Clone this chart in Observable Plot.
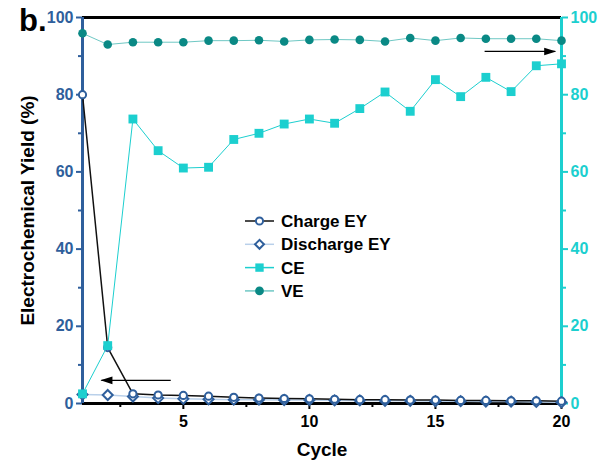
<!DOCTYPE html>
<html><head><meta charset="utf-8">
<script src="https://cdn.jsdelivr.net/npm/d3@7"></script>
<script src="https://cdn.jsdelivr.net/npm/@observablehq/plot@0.6"></script>
<style>
body{margin:0;background:#fff;font-family:"Liberation Sans",Arial,sans-serif;}
#wrap{position:relative;width:600px;height:467px;overflow:hidden;background:#fff;}
#panel{position:absolute;left:19px;top:3px;font-size:31px;font-weight:bold;color:#000;}
#legend{position:absolute;left:0;top:0;pointer-events:none;}
</style></head><body><div id="wrap"><div id="panel">b.</div></div>
<script>
// ---- data ----
const cycles = [1,2,3,4,5,6,7,8,9,10,11,12,13,14,15,16,17,18,19,20];
const chargeEY = [80,14.5,2.5,2.2,2.1,1.9,1.6,1.4,1.3,1.2,1.1,1.0,1.0,0.9,0.9,0.8,0.8,0.7,0.7,0.6];
const dischargeEY = [2.3,2.2,1.8,1.4,1.2,1.1,1.0,1.0,0.9,0.9,0.8,0.8,0.7,0.7,0.6,0.6,0.5,0.5,0.4,0.3];
const ce = [2.5,15.0,73.7,65.5,61.0,61.2,68.4,70.0,72.4,73.7,72.6,76.4,80.7,75.7,83.9,79.5,84.5,80.8,87.5,88.0];
const ve = [95.9,93.0,93.6,93.6,93.6,94.0,94.0,94.1,93.8,94.2,94.3,94.2,93.8,94.7,94.0,94.7,94.5,94.5,94.5,94.0];
const yMajorTicks = [0,20,40,60,80,100];
const yMinorTicks = [10,30,50,70,90];
const xMajorTicks = [5,10,15,20];
const xMinorTicks = [2.5,7.5,12.5,17.5];
const arrowX1 = [4.5,16.95];
const arrowX2 = [1.75,19.75];
const arrowY = [6,91.2];
const arrowDir = [180,0];
const legendLabels = ["Charge EY","Discharge EY","CE","VE"];
const xTitle = "Cycle";
const yTitle = "Electrochemical Yield (%)";

// ---- styles ----
const BLUE = "#2f5f9c";
const CYAN = "#1ccfcf";
const TEAL = "#0a8985";
const TEAL_LINE = "#6fc8c4";
const DIS_LINE = "#b9d0ea";
const FONT = "'Liberation Sans', Arial, sans-serif";

const rows = cycles.map((c, i) => ({cycle: c, charge: chargeEY[i], discharge: dischargeEY[i], ce: ce[i], ve: ve[i]}));
const arrows = arrowX1.map((x1, i) => ({x1, x2: arrowX2[i], y: arrowY[i], dir: arrowDir[i]}));
const headSymbol = {draw(ctx) { ctx.moveTo(1, 0); ctx.lineTo(-11, -3.8); ctx.lineTo(-11, 3.8); ctx.closePath(); }};

const chart = Plot.plot({
  width: 600, height: 467,
  marginLeft: 82, marginRight: 39, marginTop: 17, marginBottom: 64,
  x: {domain: [1, 20]},
  y: {domain: [0, 100]},
  style: {fontFamily: FONT, background: "transparent", overflow: "visible"},
  marks: [
    // frame lines
    Plot.ruleY([100], {stroke: "#000", strokeWidth: 3}),
    Plot.ruleY([0], {stroke: "#000", strokeWidth: 3}),
    // x axis
    Plot.axisX(xMajorTicks, {tickSize: 6, strokeWidth: 2, stroke: "#000", fill: "#000", fontSize: 16, fontWeight: "bold", tickPadding: 6, label: null}),
    Plot.axisX(xMinorTicks, {tickSize: 4, strokeWidth: 2, stroke: "#000", tickFormat: () => "", label: null}),
    // left axis
    Plot.axisY(yMajorTicks, {anchor: "left", tickSize: 6, strokeWidth: 2, stroke: BLUE, fill: BLUE, fontSize: 16, fontWeight: "bold", tickPadding: 3, label: null}),
    Plot.axisY(yMinorTicks, {anchor: "left", tickSize: 4, strokeWidth: 2, stroke: BLUE, tickFormat: () => "", label: null}),
    Plot.ruleX([1], {stroke: BLUE, strokeWidth: 3, y1: 0, y2: 100}),
    // right axis
    Plot.axisY(yMajorTicks, {anchor: "right", tickSize: 6, strokeWidth: 2, stroke: CYAN, fill: CYAN, fontSize: 16, fontWeight: "bold", tickPadding: 3, label: null}),
    Plot.axisY(yMinorTicks, {anchor: "right", tickSize: 4, strokeWidth: 2, stroke: CYAN, tickFormat: () => "", label: null}),
    Plot.ruleX([20], {stroke: CYAN, strokeWidth: 3, y1: 0, y2: 100}),
    // titles
    Plot.text([yTitle], {frameAnchor: "left", textAnchor: "middle", rotate: -90, dx: -55, fontSize: 19, fontWeight: "bold", fill: "#000"}),
    Plot.text([xTitle], {frameAnchor: "bottom", dy: 52, fontSize: 19, fontWeight: "bold", fill: "#000"}),
    // series
    Plot.line(rows, {x: "cycle", y: "discharge", stroke: DIS_LINE, strokeWidth: 1.5}),
    Plot.line(rows, {x: "cycle", y: "charge", stroke: "#111", strokeWidth: 1.5}),
    Plot.dot(rows, {x: "cycle", y: "discharge", symbol: "diamond2", r: 4.5, stroke: BLUE, fill: "#fff", strokeWidth: 2}),
    Plot.dot(rows, {x: "cycle", y: "charge", r: 3.6, stroke: BLUE, fill: "#fff", strokeWidth: 2}),
    Plot.line(rows, {x: "cycle", y: "ce", stroke: CYAN, strokeWidth: 1}),
    Plot.dot(rows, {x: "cycle", y: "ce", symbol: "square", r: 5, fill: CYAN, stroke: "none"}),
    Plot.line(rows, {x: "cycle", y: "ve", stroke: TEAL_LINE, strokeWidth: 1}),
    Plot.dot(rows, {x: "cycle", y: "ve", r: 4.3, fill: TEAL, stroke: "none"}),
    // annotation arrows
    Plot.link(arrows, {x1: "x1", x2: "x2", y1: "y", y2: "y", stroke: "#000", strokeWidth: 1.2}),
    Plot.dot(arrows, {x: "x2", y: "y", symbol: headSymbol, rotate: "dir", fill: "#000", stroke: "none", r: 4})
  ]
});
document.getElementById("wrap").prepend(chart);

// ---- legend (HTML overlay) ----
const legendStyles = [
  {line: "#111", symbol: d3.symbolCircle, size: 40, fill: "#fff", stroke: BLUE},
  {line: DIS_LINE, symbol: d3.symbolSquare, size: 40, fill: "#fff", stroke: BLUE, rot: 45},
  {line: CYAN, symbol: d3.symbolSquare, size: 70, fill: CYAN, stroke: "none"},
  {line: TEAL_LINE, symbol: d3.symbolCircle, size: 60, fill: TEAL, stroke: "none"}
];
const svg = d3.select("#wrap").append("svg").attr("id", "legend").attr("width", 600).attr("height", 467);
legendLabels.forEach((lab, i) => {
  const st = legendStyles[i];
  const cy = 221 + i * 23.3;
  const g = svg.append("g");
  g.append("line").attr("x1", 245).attr("x2", 274).attr("y1", cy).attr("y2", cy).attr("stroke", st.line).attr("stroke-width", 1.5);
  g.append("path").attr("d", d3.symbol(st.symbol, st.size)())
    .attr("transform", `translate(259.5,${cy}) rotate(${st.rot || 0})`)
    .attr("fill", st.fill).attr("stroke", st.stroke).attr("stroke-width", 2);
  g.append("text").attr("x", 281).attr("y", cy).attr("dy", "0.36em")
    .attr("font-family", FONT).attr("font-size", 17).attr("font-weight", "bold").attr("fill", "#000").text(lab);
});
</script>
</body></html>
